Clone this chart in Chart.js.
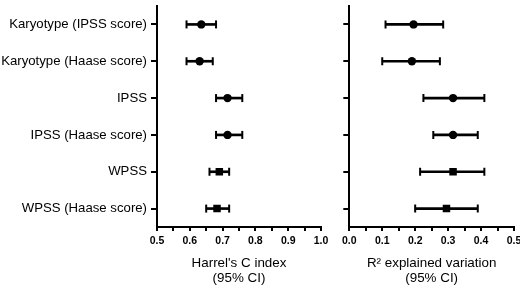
<!DOCTYPE html>
<html lang="en">
  <head>
    <meta charset="UTF-8" />
    <title>Harrell's C index and R2 forest plot</title>
    <style>
      body {
        margin: 0;
        background-color: #fff;
      }
      .wrap {
        position: relative;
        width: 520px;
        height: 289px;
        overflow: hidden;
      }
      #leftPanel {
        position: absolute;
        left: 0;
        top: 0;
      }
      #rightPanel {
        position: absolute;
        left: 338px;
        top: 0;
      }
    </style>
  </head>

  <body>
    <div class="wrap">
      <canvas id="leftPanel" width="332" height="289"></canvas>
      <canvas id="rightPanel" width="182" height="289"></canvas>
    </div>
    <script src="https://cdn.jsdelivr.net/npm/chart.js"></script>
    <script>
      // rows, top to bottom
      const categories = [
        "Karyotype (IPSS score)",
        "Karyotype (Haase score)",
        "IPSS",
        "IPSS (Haase score)",
        "WPSS",
        "WPSS (Haase score)",
      ];

      // Harrel's C index with 95% CI
      const cIndexMid = [0.635, 0.63, 0.715, 0.715, 0.69, 0.683];
      const cIndexLow = [0.59, 0.59, 0.68, 0.68, 0.66, 0.65];
      const cIndexHigh = [0.68, 0.67, 0.76, 0.76, 0.72, 0.72];

      // R2 explained variation with 95% CI
      const r2Mid = [0.195, 0.19, 0.315, 0.315, 0.315, 0.295];
      const r2Low = [0.11, 0.1, 0.225, 0.255, 0.215, 0.2];
      const r2High = [0.285, 0.275, 0.41, 0.39, 0.41, 0.39];

      const cIndexTicks = { min: 0.5, max: 1.0, step: 0.05 };
      const r2Ticks = { min: 0.0, max: 0.5, step: 0.05 };

      const ink = "#000";
      Chart.defaults.font.family = "'Liberation Sans', Arial, sans-serif";
      Chart.defaults.color = ink;

      function buildPanel(canvasId, cfg) {
        const caps = [];
        categories.forEach((c, i) => {
          caps.push({ x: cfg.low[i], y: c }, { x: cfg.high[i], y: c });
        });

        return new Chart(document.getElementById(canvasId), {
          type: "bar",
          data: {
            labels: categories,
            datasets: [
              {
                type: "scatter",
                data: categories.map((c, i) => ({ x: cfg.mid[i], y: c })),
                pointStyle: categories.map((c, i) => (i >= 4 ? "rect" : "circle")),
                pointRadius: categories.map((c, i) => (i >= 4 ? 5.3 : 4.2)),
                backgroundColor: ink,
                borderColor: ink,
                borderWidth: 0,
              },
              {
                type: "scatter",
                data: caps,
                pointStyle: "line",
                rotation: 90,
                pointRadius: 4,
                borderColor: ink,
                borderWidth: 2,
              },
              {
                type: "bar",
                data: categories.map((c, i) => [cfg.low[i], cfg.high[i]]),
                backgroundColor: ink,
                barThickness: 2,
              },
            ],
          },
          options: {
            responsive: false,
            animation: false,
            events: [],
            indexAxis: "y",
            layout: { padding: { top: 0, right: cfg.padRight, bottom: 0, left: 0 } },
            plugins: {
              legend: { display: false },
              tooltip: { enabled: false },
            },
            scales: {
              x: {
                type: "linear",
                min: cfg.ticks.min,
                max: cfg.ticks.max,
                ticks: {
                  stepSize: cfg.ticks.step,
                  autoSkip: false,
                  maxRotation: 0,
                  padding: 4,
                  color: ink,
                  font: { size: 10.5, weight: "bold" },
                  callback: (v) => (Math.round(v * 100) % 10 === 0 ? v.toFixed(1) : ""),
                },
                grid: { drawOnChartArea: false, tickLength: 4, lineWidth: 2, color: ink },
                border: { color: ink, width: 2 },
                title: {
                  display: true,
                  text: cfg.title,
                  color: ink,
                  font: { size: 13.4, lineHeight: 1.15 },
                  padding: { top: 0, bottom: 3 },
                },
                afterFit: (s) => {
                  s.height = 62;
                  s.paddingRight = 0;
                },
              },
              y: {
                type: "category",
                offset: true,
                ticks: {
                  display: cfg.showLabels,
                  padding: 4,
                  color: ink,
                  font: { size: 13.2 },
                },
                grid: { offset: false, drawOnChartArea: false, tickLength: 6, lineWidth: 2, color: ink },
                border: { color: ink, width: 2 },
                afterFit: (s) => {
                  s.width = cfg.axisWidth;
                  s.paddingTop = 0;
                  s.paddingBottom = 0;
                },
              },
            },
          },
        });
      }

      buildPanel("leftPanel", {
        mid: cIndexMid,
        low: cIndexLow,
        high: cIndexHigh,
        ticks: cIndexTicks,
        title: ["Harrel's C index", "(95% CI)"],
        showLabels: true,
        axisWidth: 157,
        padRight: 11,
      });

      buildPanel("rightPanel", {
        mid: r2Mid,
        low: r2Low,
        high: r2High,
        ticks: r2Ticks,
        title: ["R\u00B2 explained variation", "(95% CI)"],
        showLabels: false,
        axisWidth: 10,
        padRight: 6,
      });
    </script>
  </body>
</html>
